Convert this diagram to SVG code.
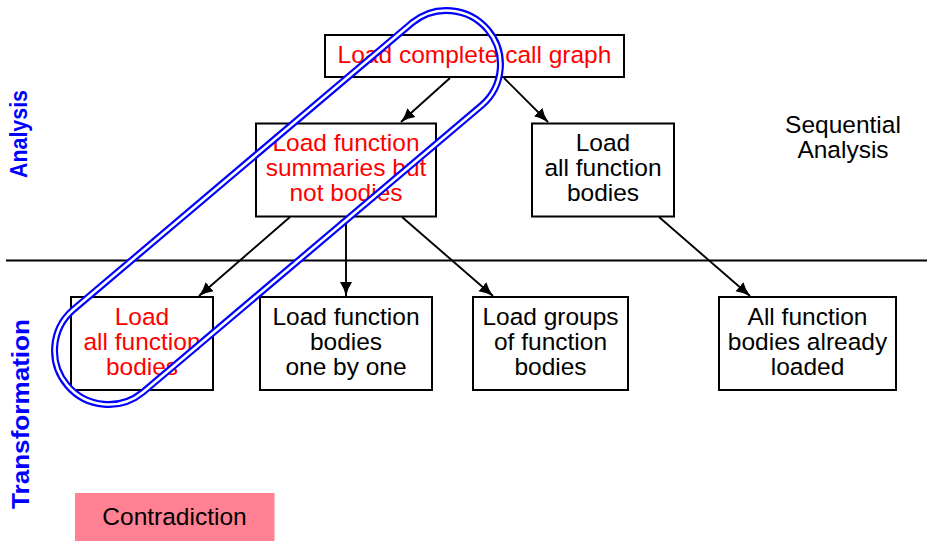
<svg xmlns="http://www.w3.org/2000/svg" width="927" height="541" viewBox="0 0 927 541">
<defs>
<style>
.box{fill:#fff;stroke:#000;stroke-width:2}
.t{font-family:"Liberation Sans",Arial,sans-serif;font-size:24.5px;text-anchor:middle;fill:#000}
.r{fill:#f00}
.side{font-family:"Liberation Sans",Arial,sans-serif;font-weight:bold;font-size:23px;text-anchor:middle;fill:#00f}
.edge{stroke:#000;stroke-width:1.9;fill:none;marker-end:url(#ah)}
</style>
<marker id="ah" viewBox="0 -7 15 14" refX="14" refY="0" markerWidth="15" markerHeight="14" markerUnits="userSpaceOnUse" orient="auto">
<path d="M0,-6 Q6,-2 14.5,0 Q6,2 0,6 Z" fill="#000"/>
</marker>
</defs>
<rect width="927" height="541" fill="#fff"/>
<line x1="6" y1="260.5" x2="927" y2="260.5" stroke="#000" stroke-width="2"/>
<text class="side" transform="translate(27,134) rotate(-90)" textLength="88" lengthAdjust="spacingAndGlyphs">Analysis</text>
<text class="side" transform="translate(29,414) rotate(-90)" textLength="190" lengthAdjust="spacingAndGlyphs">Transformation</text>
<g id="connectors">
<line class="edge" x1="450" y1="78" x2="401" y2="122"/>
<line class="edge" x1="504" y1="78" x2="548" y2="122"/>
<line class="edge" x1="290" y1="217" x2="199" y2="296"/>
<line class="edge" x1="346" y1="217" x2="346" y2="296"/>
<line class="edge" x1="402" y1="217" x2="493" y2="296"/>
<line class="edge" x1="659" y1="217" x2="750" y2="296"/>
</g>
<g id="n-top">
<rect class="box" x="325" y="35" width="299" height="42"/>
<text class="t r" x="474.5" y="63">Load complete call graph</text>
</g>
<g id="n-summaries">
<rect class="box" x="256" y="123.5" width="180" height="93"/>
<text class="t r" x="346" y="151">Load function</text>
<text class="t r" x="346" y="176">summaries but</text>
<text class="t r" x="346" y="201">not bodies</text>
</g>
<g id="n-loadall-a">
<rect class="box" x="532" y="123.5" width="142" height="93"/>
<text class="t" x="603" y="151">Load</text>
<text class="t" x="603" y="176">all function</text>
<text class="t" x="603" y="201">bodies</text>
</g>
<g id="n-sequential">
<text class="t" x="843" y="133">Sequential</text>
<text class="t" x="843" y="157.5">Analysis</text>
</g>
<g id="n-loadall-t">
<rect class="box" x="71" y="297" width="142" height="93"/>
<text class="t r" x="142" y="324.5">Load</text>
<text class="t r" x="142" y="349.5">all function</text>
<text class="t r" x="142" y="374.5">bodies</text>
</g>
<g id="n-onebyone">
<rect class="box" x="260" y="297" width="172" height="93"/>
<text class="t" x="346" y="324.5">Load function</text>
<text class="t" x="346" y="349.5">bodies</text>
<text class="t" x="346" y="374.5">one by one</text>
</g>
<g id="n-groups">
<rect class="box" x="473" y="297" width="155" height="93"/>
<text class="t" x="550.5" y="324.5">Load groups</text>
<text class="t" x="550.5" y="349.5">of function</text>
<text class="t" x="550.5" y="374.5">bodies</text>
</g>
<g id="n-already">
<rect class="box" x="719" y="297" width="177" height="93"/>
<text class="t" x="807.5" y="324.5">All function</text>
<text class="t" x="807.5" y="349.5">bodies already</text>
<text class="t" x="807.5" y="374.5">loaded</text>
</g>
<g id="n-contradiction">
<rect x="75" y="493" width="199.5" height="48" fill="#ff8193"/>
<text class="t" x="174.5" y="524.5">Contradiction</text>
</g>
<g id="loop" fill="none">
<path d="M412.1,22.8 A54,54 0 0 1 481.9,105.2 L142.9,392.2 A54,54 0 0 1 73.1,309.8 Z" stroke="#00f" stroke-width="7"/>
<path d="M412.1,22.8 A54,54 0 0 1 481.9,105.2 L142.9,392.2 A54,54 0 0 1 73.1,309.8 Z" stroke="#fff" stroke-width="2.6"/>
</g>
</svg>
